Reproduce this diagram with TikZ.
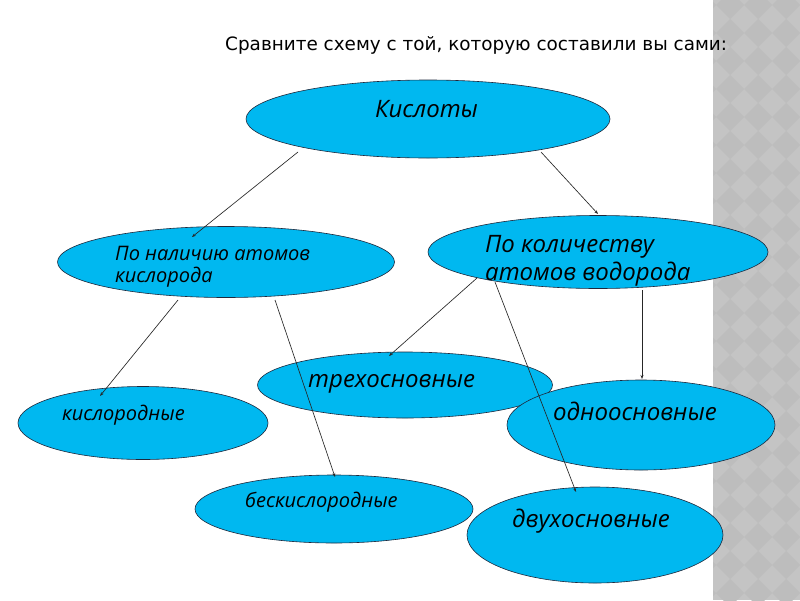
\documentclass[tikz,border=0pt]{standalone}
\usepackage{fontspec}
\usetikzlibrary{shapes.geometric,arrows.meta}
\newfontfamily\labfont{Open Sans}
\newfontfamily\ttlfont{DejaVu Sans}
\definecolor{acid}{RGB}{0,184,240}
\definecolor{edgec}{RGB}{30,40,60}
\definecolor{stripA}{RGB}{196,196,196}
\definecolor{stripB}{RGB}{189,189,189}
\tikzset{
  ell/.style n args={2}{ellipse, draw=edgec, line width=0.6pt, fill=acid, inner sep=0pt,
     minimum width=#1pt, minimum height=#2pt},
  lab/.style={anchor=base west, inner sep=0pt, font=\labfont\itshape\fontsize{#1}{#1}\selectfont},
  conn/.style={draw=black!85, line width=0.65pt, -{Stealth[length=4pt,width=3pt]}}
}
\begin{document}
\begin{tikzpicture}[x=1pt,y=-1pt]
\useasboundingbox (0,0) rectangle (800,600);
\fill[white] (0,0) rectangle (800,600);
% decorative strip
\fill[stripA] (713,0) rectangle (800,600);
\begin{scope}
\clip (713,0) rectangle (800,600);
\foreach \i in {-1,...,4}{
  \foreach \j in {-1,...,22}{
    \fill[stripB] ({730+\i*28-14},{5+\j*28}) -- ++(14,-14) -- ++(14,14) -- ++(-14,14) -- cycle;
  }
}
\end{scope}
% title
\node[anchor=base west, inner sep=0pt, font=\ttlfont\fontsize{18.4}{18.4}\selectfont] (title) at (225,50)
  {Сравните схему с той, которую составили вы сами:};
% ellipses
\node[ell={364}{78}] (acid) at (428,119) {};
\node[ell={337}{71}] (oxy) at (226,262) {};
\node[ell={340}{73}] (hyd) at (598,252) {};
\node[ell={250}{73}] (ox) at (143,423) {};
\node[ell={295}{66}] (tri) at (405,385) {};
\node[ell={268}{90}] (mono) at (641,425) {};
\node[ell={278}{68}] (nox) at (334,509) {};
\node[ell={256}{96}] (di) at (595,535) {};
% labels
\node[lab=24] (tacid) at (375,117) {Кислоты};
\node[lab=20] (toxy1) at (115,260) {По наличию атомов};
\node[lab=20] (toxy2) at (115,282) {кислорода};
\node[lab=24] (thyd1) at (485,252) {По количеству};
\node[lab=24] (thyd2) at (485,280) {атомов водорода};
\node[lab=24] (ttri) at (308,387) {трехосновные};
\node[lab=20] (tox) at (62,420) {кислородные};
\node[lab=20] (tnox) at (245,507) {бескислородные};
\node[lab=24] (tmono) at (553,420) {одноосновные};
\node[lab=24] (tdi) at (512,527) {двухосновные};
% connector end points
\coordinate (a1) at (298,152); \coordinate (b1) at (192,237);
\coordinate (a2) at (541,152); \coordinate (b2) at (598,214);
\coordinate (a3) at (178,300); \coordinate (b3) at (100,396);
\coordinate (a4) at (275,300); \coordinate (b4) at (335,477);
\coordinate (a5) at (477,278); \coordinate (b5) at (389,356);
\coordinate (a6) at (495,282); \coordinate (b6) at (576,492);
\coordinate (a7) at (642,290); \coordinate (b7) at (642,379);
\draw[conn] (a1) -- (b1);
\draw[conn] (a2) -- (b2);
\draw[conn] (a3) -- (b3);
\draw[conn] (a4) -- (b4);
\draw[conn] (a5) -- (b5);
\draw[conn] (a6) -- (b6);
\draw[conn] (a7) -- (b7);
\end{tikzpicture}
\end{document}
